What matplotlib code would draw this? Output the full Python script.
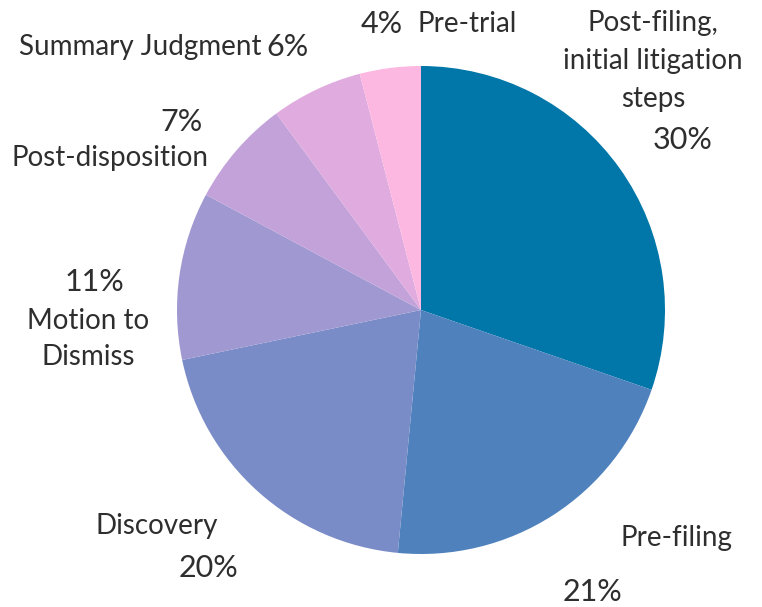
import matplotlib
matplotlib.use("Agg")
import matplotlib.pyplot as plt

plt.rcParams['font.family'] = ['Lato', 'DejaVu Sans']

# data, clockwise from 12 o'clock
stages = ['Post-filing,\ninitial litigation\nsteps', 'Pre-filing', 'Discovery',
          'Motion to\nDismiss', 'Post-disposition', 'Summary Judgment', 'Pre-trial']
shares = [30, 21, 20, 11, 7, 6, 4]
colors = ['#0077a8', '#4f82bd', '#7a8cc7', '#a098d1', '#c3a2da', '#e0acdf', '#fdb8e2']

W, H = 762, 607
fig = plt.figure(figsize=(W / 100, H / 100), dpi=100)
ax = fig.add_axes([0, 0, 1, 1])

# y axis runs downward (pixel-like), so counterclock=True draws clockwise on screen
ax.pie(shares, colors=colors, startangle=270, counterclock=True,
       center=(421, 310), radius=244, wedgeprops=dict(linewidth=0))
ax.set_xlim(0, W)
ax.set_ylim(H, 0)
ax.set_aspect('equal')
ax.axis('off')

txt = dict(fontsize=20, color='#2e2e2e', ha='center', va='center')
ptxt = dict(txt, fontsize=22)
pct = [f'{v}%' for v in shares]

# label placement (name position, percent position)
ax.text(653, 61, stages[0], linespacing=1.55, **txt)
ax.text(683, 140, pct[0], **ptxt)
ax.text(676, 538, stages[1], **txt)
ax.text(592, 592, pct[1], **ptxt)
ax.text(157, 526, stages[2], **txt)
ax.text(208, 568, pct[2], **ptxt)
ax.text(94, 282, pct[3], **ptxt)
ax.text(88, 339, stages[3], linespacing=1.5, **txt)
ax.text(182, 122, pct[4], **ptxt)
ax.text(110, 158, stages[4], **txt)
ax.text(140, 47, stages[5], **txt)
ax.text(288, 47, pct[5], **ptxt)
ax.text(382, 24, pct[6], **ptxt)
ax.text(467, 24, stages[6], **txt)

fig.savefig('out.png', dpi=100)
